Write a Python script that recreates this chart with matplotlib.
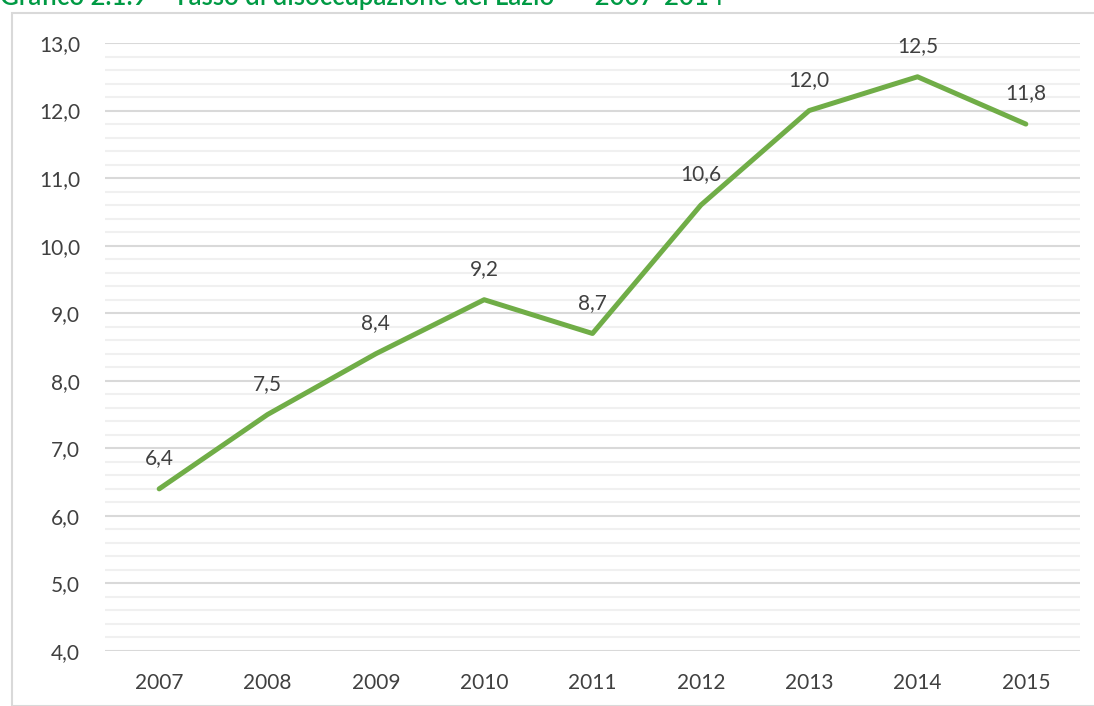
import matplotlib.pyplot as plt
from matplotlib.patches import Rectangle
import numpy as np

anni = ["2007", "2008", "2009", "2010", "2011", "2012", "2013", "2014", "2015"]
tasso = [6.4, 7.5, 8.4, 9.2, 8.7, 10.6, 12.0, 12.5, 11.8]

plt.rcParams['font.family'] = ['Lato', 'DejaVu Sans']

fig = plt.figure(figsize=(10.94, 7.06), dpi=100)
ax = fig.add_axes([105 / 1094, 1 - 651 / 706, 975 / 1094, 608 / 706])

# cornice grigia attorno al grafico
fig.patches.append(Rectangle((12 / 1094, 0), 1.0, 1 - 13 / 706, transform=fig.transFigure,
                             fill=False, edgecolor="#d9d9d9", linewidth=1.5))

# titolo (tagliato in alto come nell'originale)
fig.text(0.0, 1 - 5 / 706, "Grafico 2.1.9    Tasso di disoccupazione del Lazio  –  2007-2014",
         color="#009a44", fontsize=18.5, fontweight="semibold", va="baseline", ha="left")

x = np.arange(len(anni))
ax.plot(x, tasso, color="#70ad47", linewidth=3.6, solid_capstyle="round", zorder=3)

for xi, v in zip(x, tasso):
    ax.annotate(f"{v:.1f}".replace(".", ","), (xi, v), xytext=(0, 15), textcoords="offset points",
                ha="center", va="bottom", fontsize=15, color="#404040")

ax.set_xlim(-0.5, len(anni) - 0.5)
ax.set_ylim(4, 13)
ax.set_yticks(np.arange(4, 13.01, 1))
ax.set_yticklabels([f"{v:.1f}".replace(".", ",") for v in np.arange(4, 13.01, 1)])
ax.set_yticks(np.arange(4, 13.01, 0.2), minor=True)
ax.set_xticks(x)
ax.set_xticklabels(anni)

ax.grid(axis="y", which="major", color="#d9d9d9", linewidth=1.5)
ax.grid(axis="y", which="minor", color="#f0f0f0", linewidth=1.5)
ax.set_axisbelow(True)

for s in ax.spines.values():
    s.set_visible(False)
ax.tick_params(axis="both", which="both", length=0, labelsize=15, colors="#404040")
ax.tick_params(axis="y", pad=18)
ax.tick_params(axis="x", pad=16)

fig.savefig("out.png", dpi=100)
